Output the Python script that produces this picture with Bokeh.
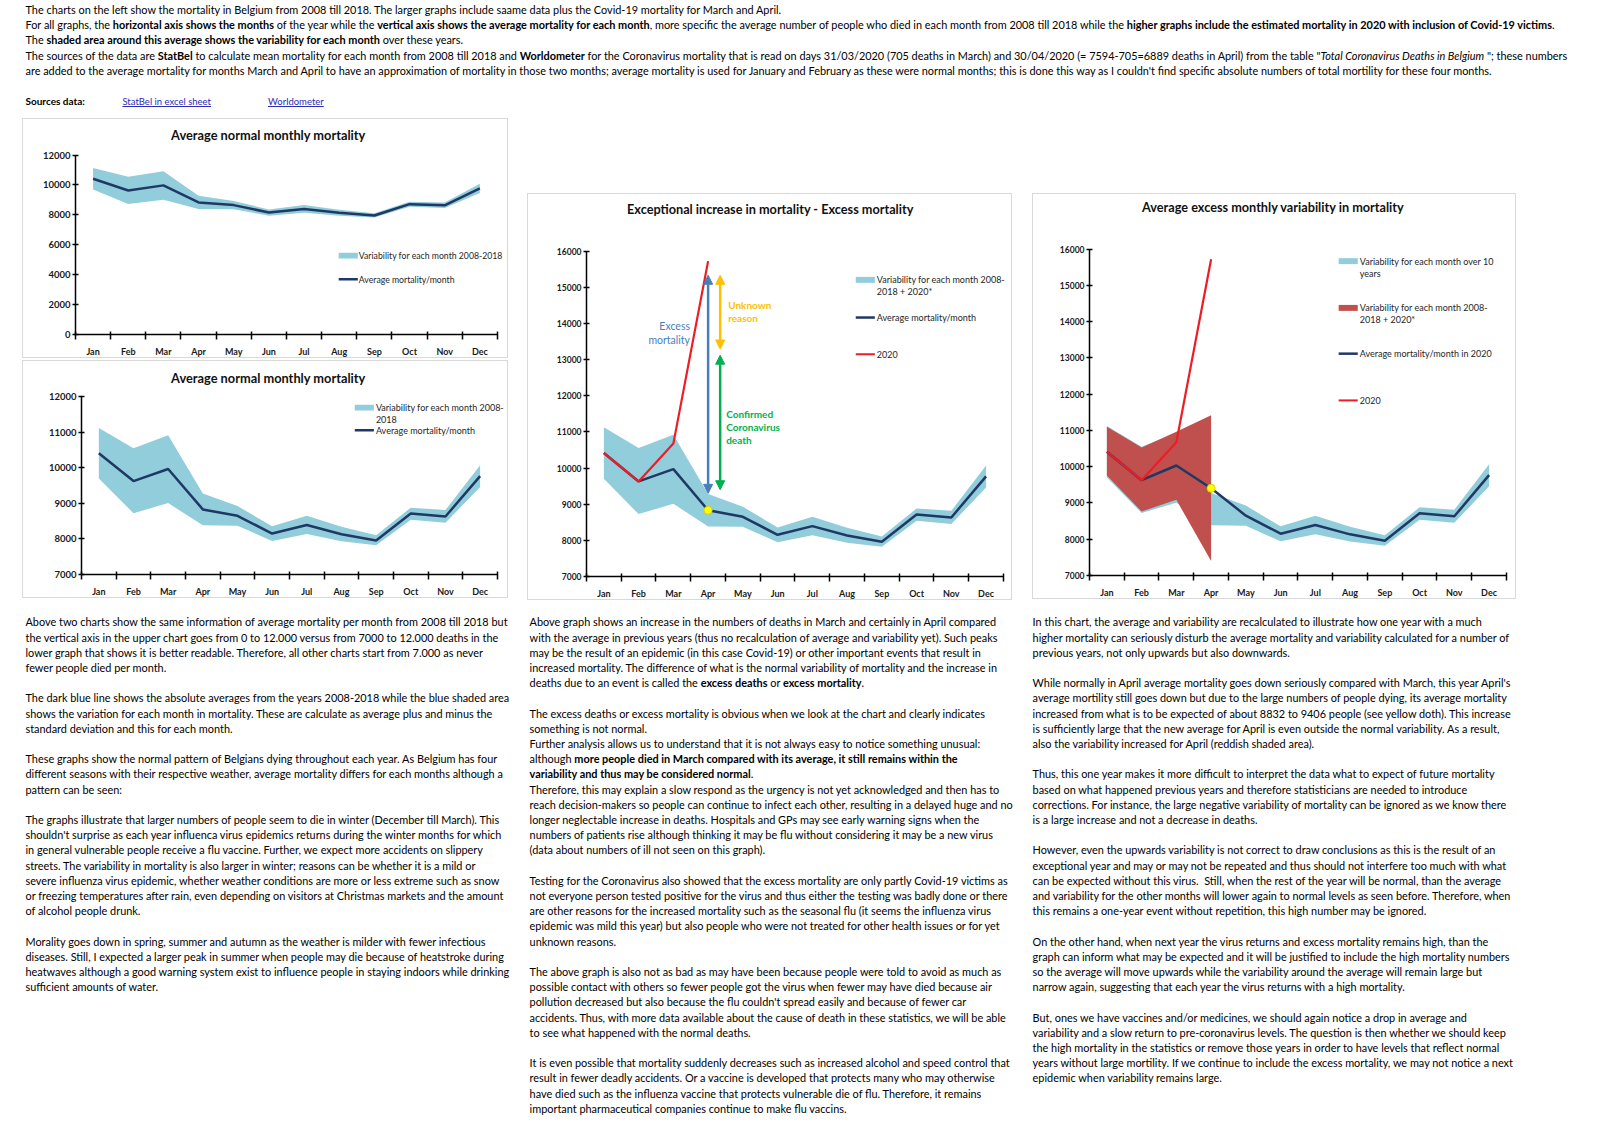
from bokeh.plotting import figure
from bokeh.models import Div, Spacer, Label, Arrow, NormalHead, FixedTicker, Range1d
from bokeh.layouts import column, row
from bokeh.embed import file_html
from bokeh.resources import INLINE

FONT = "Lato"
BAND = "#92CDDC"
NAVY = "#1F3864"
RED = "#EE1C25"
REDAREA = "#C0504D"
BLUE_A = "#4A7EBB"
ORANGE_A = "#FFC000"
GREEN_A = "#00B050"

# ---------------- data ----------------
months = ["Jan", "Feb", "Mar", "Apr", "May", "Jun", "Jul", "Aug", "Sep", "Oct", "Nov", "Dec"]
avg_2008_2018 = [10413, 9629, 9970, 8832, 8651, 8153, 8393, 8135, 7959, 8716, 8633, 9768]
upper_2008_2018 = [11124, 10552, 10921, 9279, 8928, 8356, 8651, 8347, 8107, 8882, 8817, 10072]
lower_2008_2018 = [9700, 8725, 9010, 8384, 8375, 7945, 8140, 7935, 7820, 8540, 8455, 9460]
months_2020 = ["Jan", "Feb", "Mar", "Apr"]
mortality_2020 = [10413, 9629, 10675, 15721]
avg_incl_2020 = [10413, 9629, 10034, 9406, 8651, 8153, 8393, 8135, 7959, 8716, 8633, 9768]
upper_incl_2020 = [11100, 10533, 10963, 11421]
lower_incl_2020 = [9755, 8766, 9086, 7401]
# annotation arrows in chart 3 (values in deaths)
excess_arrow = (15330, 9300)
unknown_arrow = (15330, 13290)
confirmed_arrow = (13120, 9400)

mx = {m: i + 1 for i, m in enumerate(months)}
xs = [mx[m] for m in months]
xs20 = [mx[m] for m in months_2020]
apr = mx["Apr"]
N = len(months)


def chart(box, frame, yr, ystep, ylab_size):
    """box = figure outer box in page px, frame = axis positions in page px (L, T, R, B)."""
    bx, by, bw, bh = box
    L, T, R, B = frame
    x_end = N + 0.5 + (bx + bw - 1 - R) / (R - L) * N
    y_end = yr[1] + (T - (by + 1)) / (B - T) * (yr[1] - yr[0])
    p = figure(width=bw, height=bh, output_backend="svg", toolbar_location=None, tools="",
               title=None,
               x_range=Range1d(0.5, x_end), y_range=Range1d(yr[0], y_end),
               min_border_left=L - bx - 1, min_border_right=0,
               min_border_top=0, min_border_bottom=by + bh - B - 1,
               outline_line_color=None, border_fill_color="white", background_fill_color="white",
               margin=0, styles={"border": "1px solid #D9D9D9"})
    p.grid.visible = False
    xa = p.xaxis[0]
    xa.bounds = (0.5, N + 0.5)
    xa.ticker = FixedTicker(ticks=xs, minor_ticks=[x - 0.5 for x in xs] + [N + 0.5])
    xa.major_label_overrides = {x: m for x, m in zip(xs, months)}
    xa.major_tick_in = 0
    xa.major_tick_out = 0
    xa.minor_tick_in = 3
    xa.minor_tick_out = 5
    xa.minor_tick_line_color = "black"
    xa.minor_tick_line_width = 1.5
    xa.major_label_standoff = 6
    ya = p.yaxis[0]
    ya.bounds = (yr[0], yr[1])
    ya.ticker = FixedTicker(ticks=list(range(yr[0], yr[1] + 1, ystep)))
    ya.major_tick_in = 3
    ya.major_tick_out = 3
    ya.major_tick_line_width = 1.5
    ya.minor_tick_line_color = None
    ya.major_label_standoff = 2
    for a in (xa, ya):
        a.axis_line_color = "black"
        a.axis_line_width = 1.5
        a.major_label_text_font = FONT
        a.major_label_text_font_style = "bold"
        a.major_label_text_color = "#1a1a1a"
    xa.major_label_text_font_size = "9px"
    ya.major_label_text_font_size = ylab_size

    def X(px):
        return 0.5 + (px - L) / (R - L) * N

    def Y(py):
        return yr[1] - (py - T) / (B - T) * (yr[1] - yr[0])
    return p, X, Y


def label(p, x, y, text, size, color="#262626", bold=False, align="left"):
    p.add_layout(Label(x=x, y=y, text=text, text_font=FONT, text_font_size=f"{size}px",
                       text_color=color, text_font_style="bold" if bold else "normal",
                       text_align=align, text_baseline="middle"))


def leg_patch(p, X, Y, x0, x1, yc, color, h=6):
    p.quad(left=X(x0), right=X(x1), bottom=Y(yc + h / 2), top=Y(yc - h / 2), fill_color=color, line_color=None)


def leg_line(p, X, Y, x0, x1, yc, color, w=2.5):
    p.line([X(x0), X(x1)], [Y(yc), Y(yc)], line_color=color, line_width=w)


def leg_text(p, X, Y, px, py, text, size=9):
    label(p, X(px), Y(py), text, size)


# ---------------- chart 1 ----------------
p1, X1, Y1 = chart((22, 118, 486, 240), (75, 155, 495, 337), (0, 12000), 2000, "9.5px")
p1.varea(x=xs, y1=lower_2008_2018, y2=upper_2008_2018, fill_color=BAND)
p1.line(xs, avg_2008_2018, line_color=NAVY, line_width=2.5)
label(p1, X1(267), Y1(135), "Average normal monthly mortality", 12.8, "#111", bold=True, align="center")
leg_patch(p1, X1, Y1, 337, 356, 257, BAND)
leg_text(p1, X1, Y1, 357, 257, "Variability for each month 2008-2018", 8.7)
leg_line(p1, X1, Y1, 337, 356, 281, NAVY)
leg_text(p1, X1, Y1, 357, 281, "Average mortality/month", 8.7)

# ---------------- chart 2 ----------------
p2, X2, Y2 = chart((22, 360, 486, 238), (81, 397, 495, 578), (7000, 12000), 1000, "9.5px")
p2.varea(x=xs, y1=lower_2008_2018, y2=upper_2008_2018, fill_color=BAND)
p2.line(xs, avg_2008_2018, line_color=NAVY, line_width=2.5)
label(p2, X2(267), Y2(378), "Average normal monthly mortality", 12.8, "#111", bold=True, align="center")
leg_patch(p2, X2, Y2, 353, 372, 408, BAND)
leg_text(p2, X2, Y2, 374, 408, "Variability for each month 2008-")
leg_text(p2, X2, Y2, 374, 420, "2018")
leg_line(p2, X2, Y2, 353, 372, 431, NAVY)
leg_text(p2, X2, Y2, 374, 431, "Average mortality/month")

# ---------------- chart 3 ----------------
p3, X3, Y3 = chart((527, 193, 485, 407), (586, 251, 1001, 579), (7000, 16000), 1000, "8.5px")
p3.varea(x=xs, y1=lower_2008_2018, y2=upper_2008_2018, fill_color=BAND)
p3.line(xs, avg_2008_2018, line_color=NAVY, line_width=2.5)
p3.line(xs20, mortality_2020, line_color=RED, line_width=2.2)
label(p3, X3(769), Y3(209), "Exceptional increase in mortality - Excess mortality", 12.7, "#111", bold=True, align="center")
off = 12 / 34.6
for (ys, ye), xx, c in ((excess_arrow, apr, BLUE_A), (unknown_arrow, apr + off, ORANGE_A), (confirmed_arrow, apr + off, GREEN_A)):
    p3.add_layout(Arrow(start=NormalHead(size=9, fill_color=c, line_color=c),
                        end=NormalHead(size=9, fill_color=c, line_color=c),
                        x_start=xx, y_start=ys, x_end=xx, y_end=ye, line_color=c, line_width=2.5))
p3.scatter([apr], [avg_2008_2018[apr - 1]], size=8, fill_color="#FFFF00", line_color="#D4D400", line_width=1)
label(p3, X3(689), Y3(327), "Excess", 10.5, BLUE_A, align="right")
label(p3, X3(689), Y3(341), "mortality", 10.5, BLUE_A, align="right")
label(p3, X3(727), Y3(305), "Unknown", 10, ORANGE_A, bold=True)
label(p3, X3(727), Y3(318), "reason", 10, ORANGE_A, bold=True)
label(p3, X3(725), Y3(415), "Confirmed", 10, GREEN_A, bold=True)
label(p3, X3(725), Y3(428), "Coronavirus", 10, GREEN_A, bold=True)
label(p3, X3(725), Y3(441), "death", 10, GREEN_A, bold=True)
leg_patch(p3, X3, Y3, 854, 873, 280, BAND)
leg_text(p3, X3, Y3, 875, 280, "Variability for each month 2008-")
leg_text(p3, X3, Y3, 875, 292, "2018 + 2020*")
leg_line(p3, X3, Y3, 854, 873, 318, NAVY)
leg_text(p3, X3, Y3, 875, 318, "Average mortality/month")
leg_line(p3, X3, Y3, 854, 873, 355, RED, 2)
leg_text(p3, X3, Y3, 875, 355, "2020")

# ---------------- chart 4 ----------------
p4, X4, Y4 = chart((1032, 193, 484, 406), (1089, 249, 1504, 577), (7000, 16000), 1000, "8.5px")
p4.varea(x=xs, y1=lower_2008_2018, y2=upper_2008_2018, fill_color=BAND)
p4.varea(x=xs20, y1=lower_incl_2020, y2=upper_incl_2020, fill_color=REDAREA)
p4.line(xs, avg_incl_2020, line_color=NAVY, line_width=2.5)
p4.line(xs20, mortality_2020, line_color=RED, line_width=2.2)
p4.scatter([apr], [avg_incl_2020[apr - 1]], size=8, fill_color="#FFFF00", line_color="#D4D400", line_width=1)
label(p4, X4(1272), Y4(207), "Average excess monthly variability in mortality", 12.7, "#111", bold=True, align="center")
leg_patch(p4, X4, Y4, 1337, 1356, 261, BAND)
leg_text(p4, X4, Y4, 1358, 261, "Variability for each month over 10")
leg_text(p4, X4, Y4, 1358, 273, "years")
leg_patch(p4, X4, Y4, 1337, 1356, 308, REDAREA)
leg_text(p4, X4, Y4, 1358, 308, "Variability for each month 2008-")
leg_text(p4, X4, Y4, 1358, 320, "2018 + 2020*")
leg_line(p4, X4, Y4, 1337, 1356, 354, NAVY)
leg_text(p4, X4, Y4, 1358, 354, "Average mortality/month in 2020")
leg_line(p4, X4, Y4, 1337, 1356, 401, RED, 2)
leg_text(p4, X4, Y4, 1358, 401, "2020")

# ---------------- texts ----------------
TXT = 10.9
LH = 15.2


def block(lines, width, height, first_center, left, lh=LH, size=TXT):
    parts = [f'<div style="position:relative;width:{width}px;height:{height}px;font-family:{FONT};'
             f'font-size:{size}px;color:#000;">']
    for i, ln in enumerate(lines):
        top = first_center - lh / 2 + i * lh
        if ln:
            parts.append(f'<div style="position:absolute;left:{left}px;top:{top:.2f}px;height:{lh}px;'
                         f'line-height:{lh}px;white-space:nowrap;">{ln}</div>')
    parts.append('</div>')
    return Div(text="".join(parts), width=width, height=height, margin=0)


top_lines = [
    "The charts on the left show the mortality in Belgium from 2008 till 2018. The larger graphs include saame data plus the Covid-19 mortality for March and April.",
    "For all graphs, the <b>horizontal axis shows the months</b> of the year while the <b>vertical axis shows the average mortality for each month</b>, more specific the average number of people who died in each month from 2008 till 2018 while the <b>higher graphs include the estimated mortality in 2020 with inclusion of Covid-19 victims</b>.",
    "The <b>shaded area around this average shows the variability for each month</b> over these years.",
    "The sources of the data are <b>StatBel</b> to calculate mean mortality for each month from 2008 till 2018 and <b>Worldometer</b> for the Coronavirus mortality that is read on days 31/03/2020 (705 deaths in March) and 30/04/2020 (= 7594-705=6889 deaths in April) from the table &quot;<i>Total Coronavirus Deaths in Belgium</i> &quot;; these numbers",
    "are added to the average mortality for months March and April to have an approximation of mortality in those two months; average mortality is used for January and February as these were normal months; this is done this way as I couldn't find specific absolute numbers of total mortility for these four months.",
]
tl = 15.3
top_html = [f'<div style="position:relative;width:1584px;height:110px;font-family:{FONT};font-size:{TXT}px;color:#000;">']
for i, ln in enumerate(top_lines):
    top_html.append(f'<div style="position:absolute;left:17.5px;top:{1.5 - tl / 2 + i * tl:.2f}px;line-height:{tl}px;white-space:nowrap;">{ln}</div>')
src_top = 94 - tl / 2
top_html.append(f'<div style="position:absolute;left:17.5px;top:{src_top:.2f}px;line-height:{tl}px;font-size:10px;font-weight:bold;white-space:nowrap;">Sources data:</div>')
top_html.append(f'<div style="position:absolute;left:114.4px;top:{src_top:.2f}px;line-height:{tl}px;font-size:9.5px;color:#2B2BB8;text-decoration:underline;white-space:nowrap;">StatBel in excel sheet</div>')
top_html.append(f'<div style="position:absolute;left:260px;top:{src_top:.2f}px;line-height:{tl}px;font-size:9.5px;color:#2B2BB8;text-decoration:underline;white-space:nowrap;">Worldometer</div>')
top_html.append('</div>')
top_div = Div(text="".join(top_html), width=1584, height=110, margin=0)

col1_lines = [
    "Above two charts show the same information of average mortality per month from 2008 till 2018 but",
    "the vertical axis in the upper chart goes from 0 to 12.000 versus from 7000 to 12.000 deaths in the",
    "lower graph that shows it is better readable. Therefore, all other charts start from 7.000 as never",
    "fewer people died per month.",
    "",
    "The dark blue line shows the absolute averages from the years 2008-2018 while the blue shaded area",
    "shows the variation for each month in mortality. These are calculate as average plus and minus the",
    "standard deviation and this for each month.",
    "",
    "These graphs show the normal pattern of Belgians dying throughout each year. As Belgium has four",
    "different seasons with their respective weather, average mortality differs for each months although a",
    "pattern can be seen:",
    "",
    "The graphs illustrate that larger numbers of people seem to die in winter (December till March). This",
    "shouldn't surprise as each year influenca virus epidemics returns during the winter months for which",
    "in general vulnerable people receive a flu vaccine. Further, we expect more accidents on slippery",
    "streets. The variability in mortality is also larger in winter; reasons can be whether it is a mild or",
    "severe influenza virus epidemic, whether weather conditions are more or less extreme such as snow",
    "or freezing temperatures after rain, even depending on visitors at Christmas markets and the amount",
    "of alcohol people drunk.",
    "",
    "Morality goes down in spring, summer and autumn as the weather is milder with fewer infectious",
    "diseases. Still, I expected a larger peak in summer when people may die because of heatstroke during",
    "heatwaves although a good warning system exist to influence people in staying indoors while drinking",
    "sufficient amounts of water.",
]
col2_lines = [
    "Above graph shows an increase in the numbers of deaths in March and certainly in April compared",
    "with the average in previous years (thus no recalculation of average and variability yet). Such peaks",
    "may be the result of an epidemic (in this case Covid-19) or other important events that result in",
    "increased mortality. The difference of what is the normal variability of mortality and the increase in",
    "deaths due to an event is called the <b>excess deaths</b> or <b>excess mortality</b>.",
    "",
    "The excess deaths or excess mortality is obvious when we look at the chart and clearly indicates",
    "something is not normal.",
    "Further analysis allows us to understand that it is not always easy to notice something unusual:",
    "although <b>more people died in March compared with its average, it still remains within the</b>",
    "<b>variability and thus may be considered normal</b>.",
    "Therefore, this may explain a slow respond as the urgency is not yet acknowledged and then has to",
    "reach decision-makers so people can continue to infect each other, resulting in a delayed huge and no",
    "longer neglectable increase in deaths. Hospitals and GPs may see early warning signs when the",
    "numbers of patients rise although thinking it may be flu without considering it may be a new virus",
    "(data about numbers of ill not seen on this graph).",
    "",
    "Testing for the Coronavirus also showed that the excess mortality are only partly Covid-19 victims as",
    "not everyone person tested positive for the virus and thus either the testing was badly done or there",
    "are other reasons for the increased mortality such as the seasonal flu (it seems the influenza virus",
    "epidemic was mild this year) but also people who were not treated for other health issues or for yet",
    "unknown reasons.",
    "",
    "The above graph is also not as bad as may have been because people were told to avoid as much as",
    "possible contact with others so fewer people got the virus when fewer may have died because air",
    "pollution decreased but also because the flu couldn't spread easily and because of fewer car",
    "accidents. Thus, with more data available about the cause of death in these statistics, we will be able",
    "to see what happened with the normal deaths.",
    "",
    "It is even possible that mortality suddenly decreases such as increased alcohol and speed control that",
    "result in fewer deadly accidents. Or a vaccine is developed that protects many who may otherwise",
    "have died such as the influenza vaccine that protects vulnerable die of flu. Therefore, it remains",
    "important pharmaceutical companies continue to make flu vaccins.",
]
col3_lines = [
    "In this chart, the average and variability are recalculated to illustrate how one year with a much",
    "higher mortality can seriously disturb the average mortality and variability calculated for a number of",
    "previous years, not only upwards but also downwards.",
    "",
    "While normally in April average mortality goes down seriously compared with March, this year April's",
    "average mortility still goes down but due to the large numbers of people dying, its average mortality",
    "increased from what is to be expected of about 8832 to 9406 people (see yellow doth). This increase",
    "is sufficiently large that the new average for April is even outside the normal variability. As a result,",
    "also the variability increased for April (reddish shaded area).",
    "",
    "Thus, this one year makes it more difficult to interpret the data what to expect of future mortality",
    "based on what happened previous years and therefore statisticians are needed to introduce",
    "corrections. For instance, the large negative variability of mortality can be ignored as we know there",
    "is a large increase and not a decrease in deaths.",
    "",
    "However, even the upwards variability is not correct to draw conclusions as this is the result of an",
    "exceptional year and may or may not be repeated and thus should not interfere too much with what",
    "can be expected without this virus.&nbsp; Still, when the rest of the year will be normal, than the average",
    "and variability for the other months will lower again to normal levels as seen before. Therefore, when",
    "this remains a one-year event without repetition, this high number may be ignored.",
    "",
    "On the other hand, when next year the virus returns and excess mortality remains high, than the",
    "graph can inform what may be expected and it will be justified to include the high mortality numbers",
    "so the average will move upwards while the variability around the average will remain large but",
    "narrow again, suggesting that each year the virus returns with a high mortality.",
    "",
    "But, ones we have vaccines and/or medicines, we should again notice a drop in average and",
    "variability and a slow return to pre-coronavirus levels. The question is then whether we should keep",
    "the high mortality in the statistics or remove those years in order to have levels that reflect normal",
    "years without large mortility. If we continue to include the excess mortality, we may not notice a next",
    "epidemic when variability remains large.",
]

divA = block(col1_lines, 486, 500, 24, 3.5)
divB = block(col2_lines, 485, 522, 22, 2.6)
divC = block(col3_lines, 484, 505, 23, 0.6)


def solo(fig):
    # wrap a figure on its own so that its frame is not aligned with its neighbours
    return row(fig, Spacer(width=0, height=0, margin=0), spacing=0, margin=0)


colA = column(solo(p1), Spacer(width=486, height=2, margin=0), solo(p2), divA, spacing=0, margin=0)
colB = column(Spacer(width=485, height=75, margin=0), solo(p3), divB, spacing=0, margin=0)
colC = column(Spacer(width=484, height=75, margin=0), solo(p4), divC, spacing=0, margin=0)
body = row(Spacer(width=14, height=10, margin=0), colA, Spacer(width=19, height=10, margin=0), colB,
           Spacer(width=20, height=10, margin=0), colC, spacing=0, margin=0)
inner = column(top_div, body, spacing=0, margin=0)
page = column(Spacer(width=10, height=8, margin=0),
              row(Spacer(width=8, height=10, margin=0), inner, spacing=0, margin=0),
              spacing=0, margin=0)

open("out.html", "w").write(file_html(page, INLINE, title="Mortality in Belgium"))
